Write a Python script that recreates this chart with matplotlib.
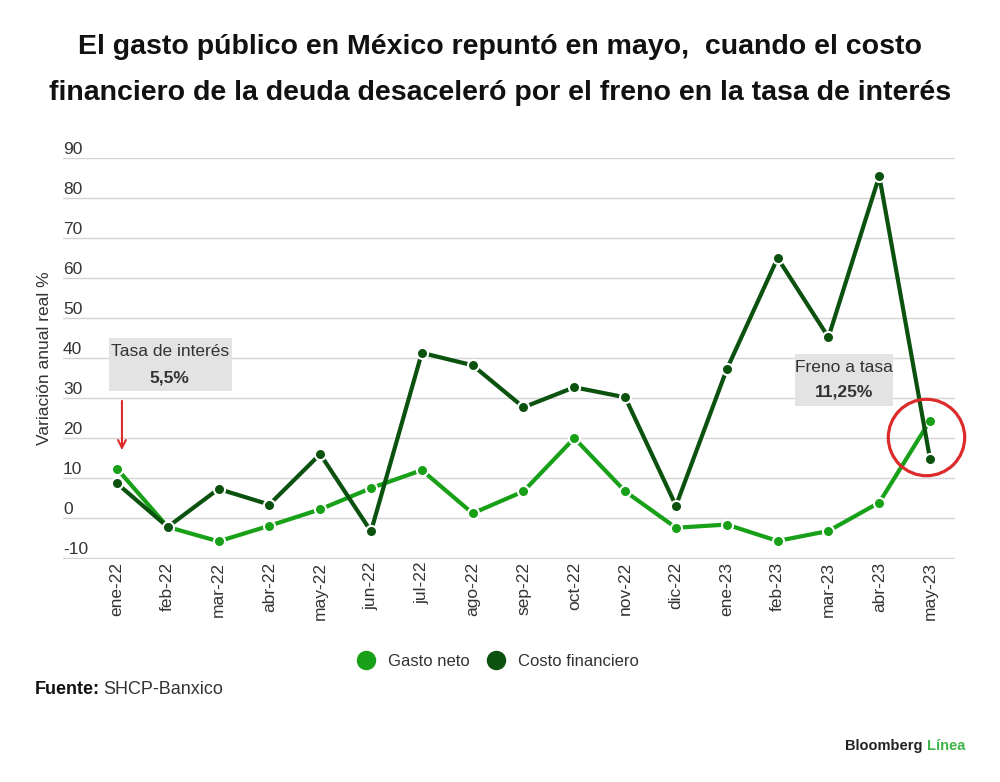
import matplotlib
matplotlib.use("Agg")
import matplotlib.pyplot as plt
import matplotlib.transforms as mtransforms
from matplotlib.patches import Rectangle
from matplotlib.lines import Line2D

plt.rcParams['font.family'] = ['Liberation Sans', 'DejaVu Sans']

# datos (variacion anual real %)
meses = ["ene-22", "feb-22", "mar-22", "abr-22", "may-22", "jun-22", "jul-22",
         "ago-22", "sep-22", "oct-22", "nov-22", "dic-22", "ene-23", "feb-23",
         "mar-23", "abr-23", "may-23"]
gasto_neto = [12.4, -2.2, -5.8, -1.9, 2.2, 7.5, 12.0, 1.2, 6.7, 20.0, 6.7,
              -2.4, -1.6, -5.7, -3.2, 3.9, 24.4]
costo_financiero = [8.7, -2.2, 7.3, 3.4, 16.0, -3.3, 41.3, 38.2, 27.7, 32.7,
                    30.2, 3.1, 37.2, 65.0, 45.2, 85.5, 14.7]
y_ticks = [-10, 0, 10, 20, 30, 40, 50, 60, 70, 80, 90]

VERDE = "#18a018"
VERDE_OSC = "#0b520f"
ROJO = "#dc2b2b"
GRIS_TXT = "#333333"
FS = 12.5

fig = plt.figure(figsize=(10, 7.82), dpi=100)
ax = fig.add_axes([0.063, 0.2852, 0.892, 0.5128])

x = list(range(len(meses)))
ax.plot(x, gasto_neto, color=VERDE, lw=3, marker='o', ms=8, mec='white',
        mew=1.5, zorder=3, solid_capstyle='round')
ax.plot(x, costo_financiero, color=VERDE_OSC, lw=3, marker='o', ms=8,
        mec='white', mew=1.5, zorder=4, solid_capstyle='round')

ax.set_xlim(-1.06, 16.49)
ax.set_ylim(-10.2, 90)
ax.set_yticks(y_ticks)
ax.yaxis.grid(True, color='#d4d4d4', lw=1)
ax.set_axisbelow(True)
ax.tick_params(axis='y', length=0, labelleft=False)
ax.set_xticks(x, meses, rotation=90, fontsize=FS, color=GRIS_TXT)
ax.tick_params(axis='x', length=0, pad=2)
for s in ax.spines.values():
    s.set_visible(False)

# etiquetas del eje y encima de las lineas
trans = mtransforms.blended_transform_factory(ax.transAxes, ax.transData)
for t in y_ticks:
    ax.annotate(str(t), xy=(0, t), xycoords=trans, xytext=(0, 1),
                textcoords='offset points', ha='left', va='bottom',
                fontsize=FS, color=GRIS_TXT)

# anotacion tasa de interes
ax.add_patch(Rectangle((-0.16, 31.7), 2.42, 13.2, color='#e3e3e3', zorder=2, lw=0))
ax.text(1.04, 41.6, "Tasa de interés", ha='center', va='center', fontsize=FS,
        color=GRIS_TXT, zorder=5)
ax.text(1.04, 34.9, "5,5%", ha='center', va='center', fontsize=FS,
        weight='bold', color=GRIS_TXT, zorder=5)
ax.annotate("", xy=(0.1, 16.3), xytext=(0.1, 30.0),
            arrowprops=dict(arrowstyle='->', color=ROJO, lw=1.5,
                            mutation_scale=14))

# anotacion freno a tasa
ax.add_patch(Rectangle((13.34, 27.9), 1.93, 13.0, color='#e3e3e3', zorder=2, lw=0))
ax.text(14.31, 37.7, "Freno a tasa", ha='center', va='center', fontsize=FS,
        color=GRIS_TXT, zorder=5)
ax.text(14.31, 31.4, "11,25%", ha='center', va='center', fontsize=FS,
        weight='bold', color=GRIS_TXT, zorder=5)

# circulo rojo sobre mayo 2023
ult = len(meses) - 1
ax.plot([ult - 0.08], [(gasto_neto[ult] + costo_financiero[ult]) / 2 + 0.8],
        marker='o', ms=55, mfc='none', mec=ROJO, mew=2.3, zorder=6,
        clip_on=False)

# titulo
fig.text(0.5, 1 - 47 / 782, "El gasto público en México repuntó en mayo,  cuando el costo",
         ha='center', va='center', fontsize=20.5, weight='bold', color='#111111')
fig.text(0.5, 1 - 93 / 782, "financiero de la deuda desaceleró por el freno en la tasa de interés",
         ha='center', va='center', fontsize=20.5, weight='bold', color='#111111')

fig.text(0.045, 1 - 358 / 782, "Variación anual real %", rotation=90,
         ha='center', va='center', fontsize=FS, color=GRIS_TXT)

# leyenda
handles = [Line2D([], [], lw=0, marker='o', ms=13, color=VERDE),
           Line2D([], [], lw=0, marker='o', ms=13, color=VERDE_OSC)]
fig.legend(handles, ["Gasto neto", "Costo financiero"], loc='center',
           bbox_to_anchor=(0.494, 1 - 661 / 782), ncol=2, frameon=False,
           fontsize=12, handletextpad=0.3, columnspacing=0.6,
           labelcolor=GRIS_TXT)

# fuente
t1 = fig.text(0.035, 1 - 689 / 782, "Fuente:", ha='left', va='center',
              fontsize=13, weight='bold', color='#111111')
ax.annotate("SHCP-Banxico", xy=(1, 0.5), xycoords=t1, xytext=(2, 0),
            textcoords='offset points', ha='left', va='center',
            fontsize=13, color=GRIS_TXT)

# marca
t2 = fig.text(0.965, 1 - 746 / 782, "Línea", ha='right', va='center',
              fontsize=10.5, weight='bold', color='#3fb449')
ax.annotate("Bloomberg ", xy=(0, 0.5), xycoords=t2, ha='right', va='center',
            fontsize=10.5, weight='bold', color='#222222')

fig.savefig("out.png", dpi=100)
